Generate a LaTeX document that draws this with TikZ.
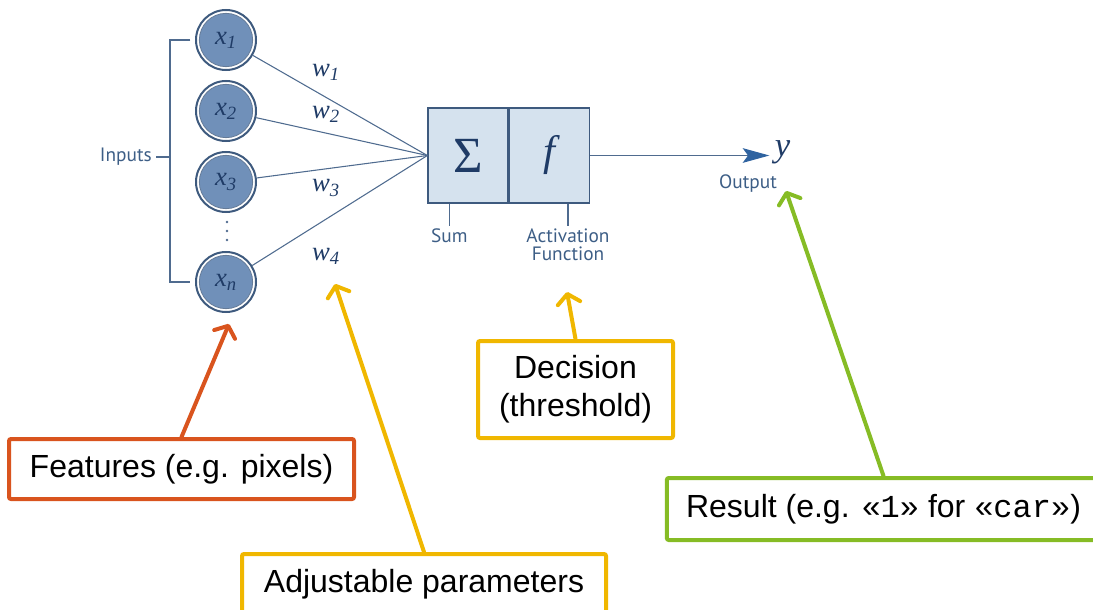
\documentclass[tikz,border=0pt]{standalone}
\usepackage{fontspec}
\setmainfont{Liberation Sans}
\setmonofont{Liberation Mono}
\newfontfamily\labelfont{PT Sans}
\newfontfamily\varfont{Liberation Serif}
\usepackage{tikz}
\usetikzlibrary{positioning,arrows.meta}

\newcommand{\nvar}[2]{{\varfont\itshape #1\textsubscript{#2}}}

\definecolor{ringblue}{HTML}{3E5A7E}
\definecolor{discblue}{HTML}{7090B9}
\definecolor{wireblue}{HTML}{4F6B8F}
\definecolor{headblue}{HTML}{2F63A0}
\definecolor{boxfill}{HTML}{D5E2EE}
\definecolor{labelblue}{HTML}{3D5E86}
\definecolor{mathblue}{HTML}{1F3B66}
\definecolor{featorange}{HTML}{D9541E}
\definecolor{paramyellow}{HTML}{F0B700}
\definecolor{resultgreen}{HTML}{86BC25}

\tikzset{
    neuron/.style={circle, draw=ringblue, line width=1.5pt, fill=white,
        minimum size=45pt, inner sep=0pt, text=mathblue,
        font=\fontsize{20}{20}\selectfont,
        path picture={\filldraw[fill=discblue, draw=ringblue!80, line width=0.6pt]
            (path picture bounding box.center) circle (20pt);}},
    wire/.style={draw=wireblue, line width=0.8pt},
    weight/.style={text=mathblue, font=\fontsize{20}{20}\selectfont},
    unit/.style={rectangle, draw=ringblue, line width=1pt, fill=boxfill,
        minimum width=60pt, minimum height=71pt, inner sep=0pt, text=mathblue},
    lbl/.style={text=labelblue, align=center, inner sep=1pt,
        font=\labelfont\fontsize{14.5}{14}\selectfont},
    callout/.style={rectangle, draw, line width=3pt, rounded corners=1.5pt,
        fill=white, align=center, inner sep=0pt,
        font=\fontsize{24}{28.5}\selectfont},
    pointer/.style={line width=3pt, line cap=round,
        -{Straight Barb[length=7pt, width=17pt, round]}}
}

\begin{document}
\begin{tikzpicture}[x=0.75pt, y=-0.75pt]
    \useasboundingbox (0,0) rectangle (1093,610);

    % inputs
    \node[neuron] (x1) at (226,40) {\nvar{x}{1}};
    \node[neuron] (x2) at (226,111) {\nvar{x}{2}};
    \node[neuron] (x3) at (226,182) {\nvar{x}{3}};
    \node[neuron] (xn) at (226,282) {\nvar{x}{n}};
    \foreach \d in {222,231,240}
        \fill[wireblue] (227,\d) circle (1.1pt);

    \coordinate (brmid) at (170,157);
    \node[lbl, anchor=east, inner sep=3pt] (inputs) at (156,157) {Inputs};
    \draw[wire] ([xshift=-3.5pt]x1.west) -| (brmid) |- ([xshift=-3.5pt]xn.west);
    \draw[wire] (inputs) -- (brmid);

    % sum and activation
    \node[unit] (sum) at (468,155.5) {\varfont\fontsize{38}{38}\selectfont Σ};
    \node[unit, right=0pt of sum] (act) {\nvar{\fontsize{32}{32}\selectfont f}{}};

    \draw[wire] (x1) -- (sum.west);
    \draw[wire] (x2) -- (sum.west);
    \draw[wire] (x3) -- (sum.west);
    \draw[wire] (xn) -- (sum.west);

    \node[weight] (w1) at (326,72) {\nvar{w}{1}};
    \node[weight] (w2) at (326,114) {\nvar{w}{2}};
    \node[weight] (w3) at (326,188) {\nvar{w}{3}};
    \node[weight] (w4) at (326,256) {\nvar{w}{4}};

    \draw[wire] ([xshift=-14pt]sum.south) -- ++(0,22) coordinate (sumtick);
    \draw[wire] ([xshift=14pt]act.south) -- ++(0,22) coordinate (acttick);
    \node[lbl, below=1pt of sumtick] (sumlbl) {Sum};
    \node[lbl, below=1pt of acttick] (actlbl) {Activation\\Function};

    % output
    \node[text=mathblue, inner sep=1pt, font=\fontsize{26}{26}\selectfont] (yout) at (783,152) {\nvar{y}{}};
    \node[lbl, anchor=north] (outlbl) at (748,173) {Output};
    \draw[wire, shorten >=3pt, -{Stealth[length=20pt, width=11pt, inset=4pt, color=headblue]}]
        (act.east) -- (act.east -| yout.west);

    % callouts
    \node[callout, draw=featorange, minimum width=258.75pt, minimum height=45pt]
        (feat) at (181.5,469) {Features (e.g. pixels)};
    \node[callout, draw=paramyellow, minimum width=273pt, minimum height=45pt]
        (adj) at (424,584) {Adjustable parameters};
    \node[callout, draw=paramyellow, minimum width=146.25pt, minimum height=72.75pt]
        (dec) at (575.5,389.5) {Decision\\(threshold)};
    \node[callout, draw=resultgreen, minimum width=325pt, minimum height=46.5pt]
        (res) at (883.5,509) {Result (e.g. {\ttfamily«1»} for {\ttfamily«car»})};

    \coordinate (feattip) at (229,324);
    \coordinate (adjtip) at (335,284);
    \coordinate (dectip) at (567,292);
    \coordinate (restip) at (786,191);
    \draw[pointer, featorange] (feat.north) -- (feattip);
    \draw[pointer, paramyellow] (adj.north) -- (adjtip);
    \draw[pointer, paramyellow] (dec.north) -- (dectip);
    \draw[pointer, resultgreen] (res.north) -- (restip);
\end{tikzpicture}
\end{document}
